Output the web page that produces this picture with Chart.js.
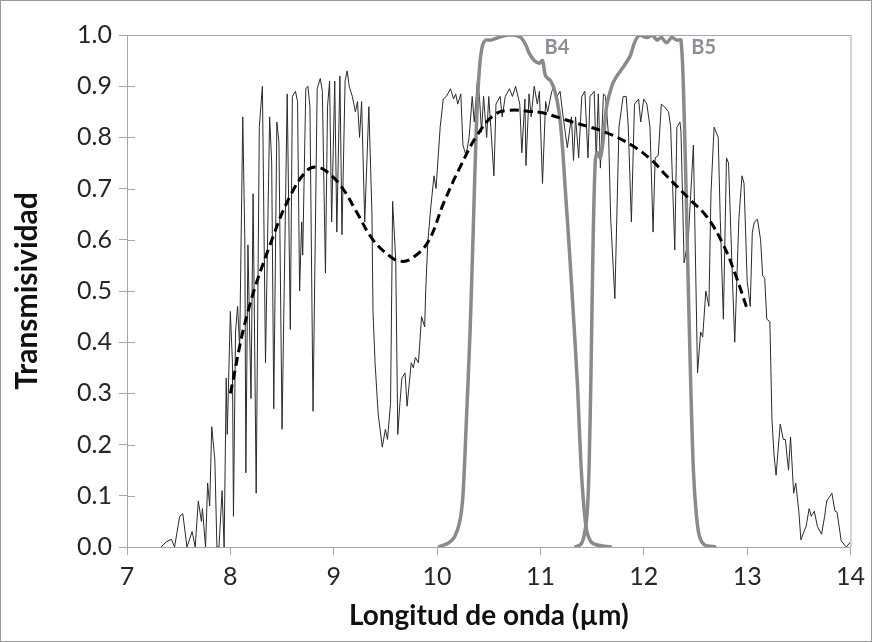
<!doctype html>
<html lang="es">
<head>
<meta charset="utf-8">
<style>
  html, body { margin: 0; padding: 0; background: #fff; }
  #wrap { width: 872px; height: 642px; }
</style>
</head>
<body>
<div id="wrap"><canvas id="myChart" width="872" height="642"></canvas></div>

<script src="https://cdn.jsdelivr.net/npm/chart.js"></script>
<script>
// atmospheric transmission spectrum (thin line)
const specWl = [7.33, 7.38, 7.43, 7.46, 7.51, 7.54, 7.58, 7.63, 7.66, 7.69, 7.72, 7.73, 7.76, 7.78, 7.80, 7.82, 7.85, 7.87, 7.89, 7.92,
    7.94, 7.96, 7.97, 8.00, 8.02, 8.03, 8.05, 8.07, 8.09, 8.12, 8.14, 8.15, 8.17, 8.20, 8.22, 8.25, 8.28, 8.31, 8.34, 8.38,
    8.40, 8.42, 8.45, 8.47, 8.50, 8.55, 8.58, 8.60, 8.63, 8.65, 8.67, 8.69, 8.70, 8.73, 8.75, 8.77, 8.80, 8.84, 8.87, 8.89,
    8.92, 8.94, 8.96, 8.98, 9.01, 9.03, 9.06, 9.08, 9.11, 9.13, 9.15, 9.18, 9.21, 9.23, 9.25, 9.27, 9.30, 9.34, 9.37, 9.38,
    9.40, 9.43, 9.47, 9.50, 9.52, 9.55, 9.57, 9.60, 9.62, 9.64, 9.66, 9.69, 9.71, 9.75, 9.77, 9.79, 9.82, 9.85, 9.88, 9.89,
    9.91, 9.94, 9.97, 9.99, 10.03, 10.06, 10.09, 10.13, 10.16, 10.18, 10.20, 10.23, 10.25, 10.28, 10.31, 10.34, 10.36, 10.39, 10.41, 10.43,
    10.45, 10.48, 10.50, 10.52, 10.55, 10.57, 10.61, 10.63, 10.66, 10.70, 10.73, 10.76, 10.80, 10.82, 10.85, 10.86, 10.89, 10.91, 10.94, 10.97,
    10.99, 11.02, 11.05, 11.07, 11.11, 11.13, 11.16, 11.19, 11.22, 11.26, 11.30, 11.32, 11.34, 11.37, 11.40, 11.43, 11.46, 11.48, 11.52, 11.54,
    11.56, 11.58, 11.61, 11.63, 11.66, 11.68, 11.72, 11.76, 11.80, 11.83, 11.85, 11.88, 11.91, 11.95, 11.97, 12.00, 12.03, 12.06, 12.09, 12.11,
    12.14, 12.17, 12.20, 12.24, 12.26, 12.30, 12.32, 12.35, 12.36, 12.39, 12.43, 12.48, 12.52, 12.55, 12.57, 12.60, 12.63, 12.65, 12.68, 12.72,
    12.74, 12.77, 12.80, 12.82, 12.86, 12.88, 12.92, 12.95, 12.97, 13.00, 13.03, 13.05, 13.07, 13.10, 13.13, 13.15, 13.17, 13.19, 13.22, 13.24,
    13.26, 13.28, 13.32, 13.35, 13.37, 13.40, 13.42, 13.45, 13.47, 13.50, 13.52, 13.55, 13.57, 13.60, 13.62, 13.65, 13.68, 13.72, 13.75, 13.77,
    13.82, 13.85, 13.87, 13.91, 13.96, 14.00];
const specT = [0, 0.01, 0.015, 0, 0.06, 0.065, 0, 0.03, 0, 0.09, 0.05, 0.075, 0, 0.125, 0.08, 0.235, 0.17, 0, 0, 0.11,
    0, 0.33, 0.22, 0.46, 0.36, 0.06, 0.42, 0.47, 0.39, 0.84, 0.60, 0.145, 0.59, 0.29, 0.69, 0.105, 0.82, 0.90, 0.36, 0.84,
    0.75, 0.27, 0.83, 0.79, 0.23, 0.885, 0.425, 0.88, 0.89, 0.87, 0.50, 0.635, 0.57, 0.895, 0.90, 0.86, 0.265, 0.895, 0.915, 0.89,
    0.535, 0.86, 0.91, 0.635, 0.91, 0.615, 0.92, 0.61, 0.91, 0.93, 0.90, 0.88, 0.85, 0.87, 0.80, 0.87, 0.635, 0.86, 0.65, 0.46,
    0.36, 0.26, 0.195, 0.23, 0.21, 0.28, 0.675, 0.56, 0.22, 0.28, 0.33, 0.34, 0.275, 0.36, 0.35, 0.37, 0.36, 0.45, 0.43, 0.50,
    0.595, 0.665, 0.725, 0.70, 0.82, 0.875, 0.88, 0.895, 0.875, 0.885, 0.865, 0.885, 0.785, 0.765, 0.80, 0.88, 0.83, 0.91, 0.88, 0.81,
    0.88, 0.80, 0.88, 0.82, 0.725, 0.865, 0.88, 0.84, 0.88, 0.895, 0.88, 0.90, 0.865, 0.77, 0.875, 0.745, 0.885, 0.84, 0.90, 0.865,
    0.89, 0.71, 0.87, 0.85, 0.89, 0.90, 0.88, 0.89, 0.84, 0.78, 0.84, 0.755, 0.84, 0.76, 0.88, 0.89, 0.76, 0.88, 0.89, 0.755,
    0.885, 0.74, 0.885, 0.88, 0.80, 0.64, 0.485, 0.82, 0.88, 0.88, 0.82, 0.635, 0.865, 0.875, 0.83, 0.875, 0.865, 0.82, 0.615, 0.76,
    0.765, 0.865, 0.86, 0.85, 0.82, 0.58, 0.82, 0.83, 0.81, 0.555, 0.60, 0.785, 0.34, 0.42, 0.41, 0.50, 0.47, 0.69, 0.82, 0.80,
    0.64, 0.445, 0.76, 0.75, 0.51, 0.40, 0.64, 0.725, 0.71, 0.52, 0.47, 0.615, 0.635, 0.64, 0.60, 0.53, 0.525, 0.445, 0.44, 0.25,
    0.18, 0.14, 0.24, 0.21, 0.21, 0.15, 0.215, 0.105, 0.125, 0.07, 0.014, 0.03, 0.04, 0.075, 0.06, 0.07, 0.04, 0.025, 0.06, 0.09,
    0.105, 0.07, 0.068, 0.012, 0, 0.01];

// smoothed curve (dashed)
const fitWl = [8.00, 8.17, 8.42, 8.59, 8.74, 8.83, 8.92, 9.07, 9.22, 9.38, 9.55, 9.65, 9.75, 9.91, 10.07, 10.23,
    10.39, 10.56, 10.71, 10.88, 11.02, 11.31, 11.63, 11.88, 12.08, 12.22, 12.44, 12.61, 12.77, 12.89, 13.00];
const fitT = [0.30, 0.46, 0.61, 0.69, 0.735, 0.742, 0.735, 0.705, 0.655, 0.60, 0.567, 0.558, 0.563, 0.595, 0.675, 0.745,
    0.805, 0.845, 0.853, 0.851, 0.848, 0.83, 0.81, 0.785, 0.755, 0.725, 0.68, 0.645, 0.59, 0.53, 0.465];

// band B4 response
const b4Wl = [10.01, 10.11, 10.17, 10.22, 10.25, 10.28, 10.32, 10.35, 10.38, 10.41, 10.44, 10.47, 10.52, 10.59, 10.68, 10.75,
    10.81, 10.86, 10.89, 10.94, 10.99, 11.02, 11.05, 11.10, 11.14, 11.18, 11.21, 11.24, 11.28, 11.32, 11.36, 11.39,
    11.42, 11.45, 11.50, 11.60, 11.69];
const b4T = [0, 0.008, 0.02, 0.05, 0.10, 0.23, 0.425, 0.62, 0.82, 0.935, 0.98, 0.99, 0.99, 0.995, 1.0, 1.0,
    0.995, 0.98, 0.965, 0.95, 0.945, 0.95, 0.92, 0.91, 0.89, 0.85, 0.79, 0.70, 0.58, 0.45, 0.31, 0.17,
    0.08, 0.03, 0.008, 0.002, 0];

// band B5 response
const b5Wl = [11.33, 11.39, 11.42, 11.45, 11.47, 11.49, 11.51, 11.53, 11.55, 11.58, 11.61, 11.64, 11.69, 11.74, 11.81, 11.87,
    11.91, 11.96, 12.03, 12.08, 12.13, 12.17, 12.22, 12.27, 12.32, 12.36, 12.39, 12.42, 12.45, 12.48, 12.51, 12.54,
    12.59, 12.70];
const b5T = [0, 0.005, 0.02, 0.06, 0.15, 0.35, 0.60, 0.75, 0.77, 0.76, 0.80, 0.86, 0.90, 0.92, 0.94, 0.96,
    0.985, 1.0, 0.995, 1.0, 0.99, 0.995, 0.985, 0.995, 0.99, 0.99, 0.85, 0.60, 0.35, 0.15, 0.06, 0.02,
    0.004, 0];

const bandLabels = ['B4', 'B5'];
const bandLabelX = [11.16, 12.58];
const bandLabelY = [0.975, 0.975];

function pts(xs, ys) {
    return xs.map((x, i) => ({ x: x, y: ys[i] }));
}

const txt = '#262626';
const axisGray = '#a6a6a6';
const font = 'Lato, "Open Sans", sans-serif';

// frame, inner y ticks, band labels and outer border
const extras = {
    id: 'extras',
    afterDraw(chart) {
        const c = chart.ctx;
        const a = chart.chartArea;
        const ys = chart.scales.y;
        const xs = chart.scales.x;
        c.save();
        c.strokeStyle = axisGray;
        c.lineWidth = 1;
        c.beginPath();
        c.moveTo(a.left, a.top + 0.5);
        c.lineTo(a.right + 0.5, a.top + 0.5);
        c.lineTo(a.right + 0.5, a.bottom);
        c.stroke();
        ys.ticks.forEach(t => {
            const py = Math.round(ys.getPixelForValue(t.value)) + 0.5;
            c.beginPath();
            c.moveTo(a.left, py);
            c.lineTo(a.left + 8, py);
            c.stroke();
        });
        c.strokeStyle = '#999';
        c.strokeRect(0.5, 0.5, chart.width - 1, chart.height - 1);

        c.fillStyle = '#8a8e96';
        c.font = 'bold 20px ' + font;
        c.textAlign = 'center';
        c.textBaseline = 'middle';
        bandLabels.forEach((s, i) => {
            c.fillText(s, xs.getPixelForValue(bandLabelX[i]), ys.getPixelForValue(bandLabelY[i]));
        });
        c.restore();
    }
};

new Chart(document.getElementById('myChart'), {
    type: 'scatter',
    data: {
        datasets: [
            {
                label: 'Transmisividad',
                data: pts(specWl, specT),
                showLine: true,
                borderColor: '#2b2b2b',
                borderWidth: 1,
                pointRadius: 0,
                order: 3
            },
            {
                label: 'B4',
                data: pts(b4Wl, b4T),
                showLine: true,
                borderColor: '#8a8a8a',
                borderWidth: 3.5,
                tension: 0.3,
                pointRadius: 0,
                order: 2
            },
            {
                label: 'B5',
                data: pts(b5Wl, b5T),
                showLine: true,
                borderColor: '#8a8a8a',
                borderWidth: 3.5,
                tension: 0.3,
                pointRadius: 0,
                order: 2
            },
            {
                label: 'Ajuste',
                data: pts(fitWl, fitT),
                showLine: true,
                borderColor: '#000',
                borderWidth: 3,
                borderDash: [9, 5],
                tension: 0.4,
                pointRadius: 0,
                order: 1
            }
        ]
    },
    options: {
        responsive: false,
        animation: false,
        layout: { padding: { top: 35, right: 18, left: 0, bottom: 0 } },
        plugins: {
            legend: { display: false },
            tooltip: { enabled: false }
        },
        scales: {
            x: {
                type: 'linear',
                min: 7,
                max: 14,
                afterFit: s => { s.height = 95; },
                border: { color: axisGray, width: 1 },
                grid: { drawOnChartArea: false, tickLength: 8, color: axisGray },
                ticks: { stepSize: 1, color: txt, padding: 7, font: { family: font, size: 25 } },
                title: {
                    display: true,
                    text: 'Longitud de onda (µm)',
                    color: '#111',
                    padding: { top: 0, bottom: 9 },
                    font: { family: font, size: 28, weight: 'bold' }
                }
            },
            y: {
                min: 0,
                max: 1,
                afterFit: s => { s.width = 127; },
                border: { color: axisGray, width: 1 },
                grid: { drawOnChartArea: false, tickLength: 8, color: axisGray },
                ticks: {
                    stepSize: 0.1,
                    color: txt,
                    padding: 7,
                    font: { family: font, size: 25 },
                    callback: v => v.toFixed(1)
                },
                title: {
                    display: true,
                    text: 'Transmisividad',
                    color: '#111',
                    padding: { top: 9, bottom: 0 },
                    font: { family: font, size: 30, weight: 'bold' }
                }
            }
        }
    },
    plugins: [extras]
});
</script>
</body>
</html>
